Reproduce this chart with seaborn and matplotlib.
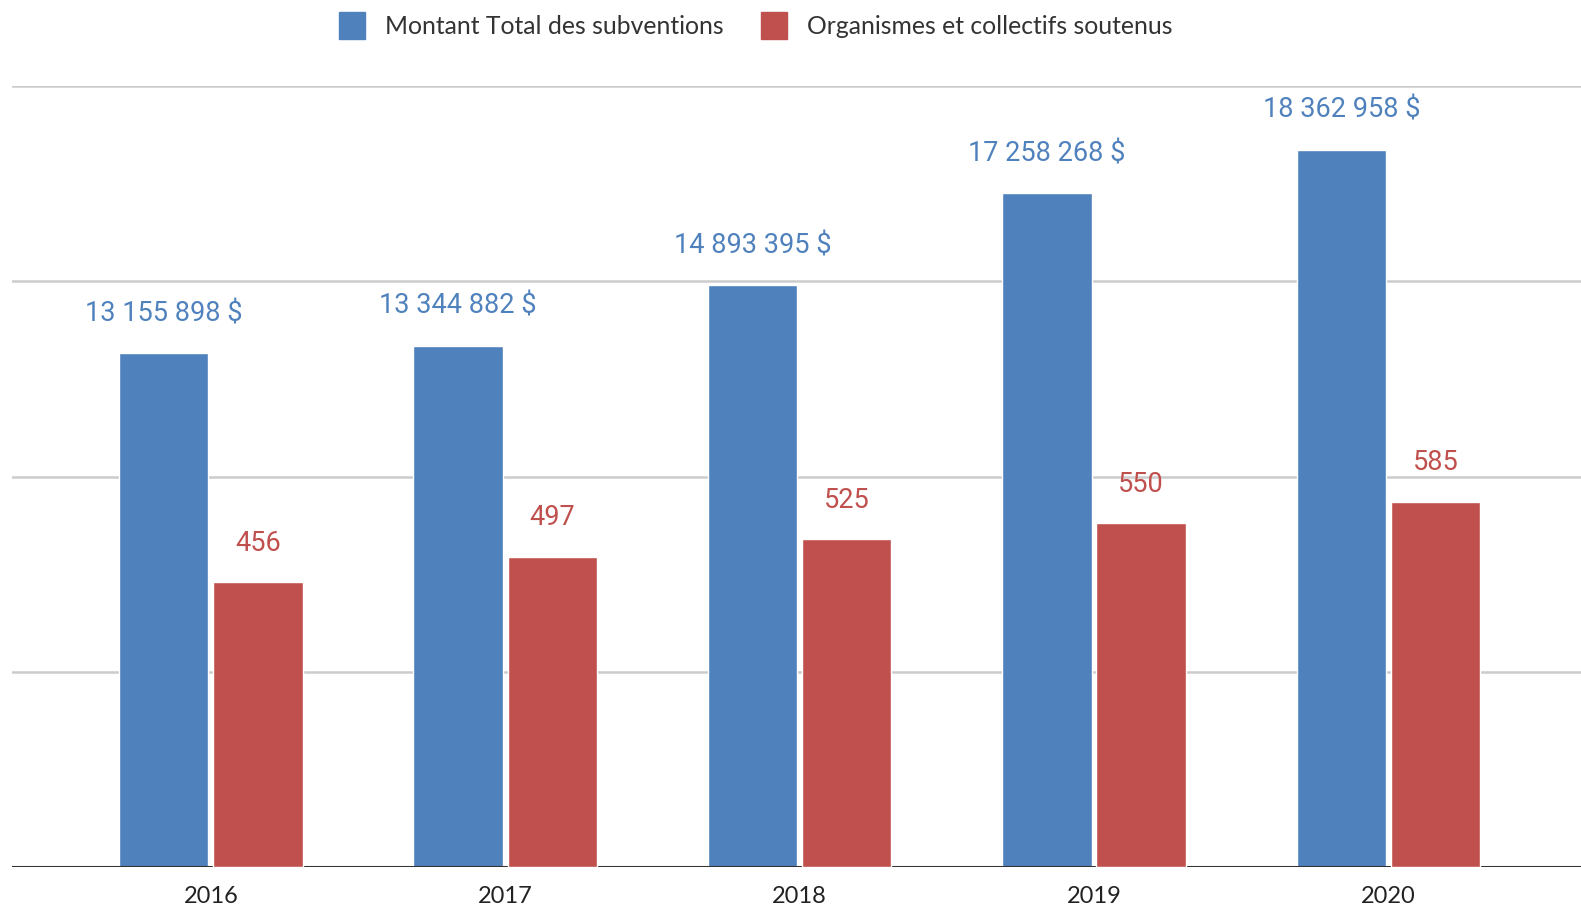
import matplotlib
matplotlib.use("Agg")
import matplotlib.pyplot as plt
from matplotlib.patches import Patch
import seaborn as sns
import pandas as pd
import numpy as np

years = ["2016", "2017", "2018", "2019", "2020"]
montant = [13155898, 13344882, 14893395, 17258268, 18362958]
organismes = [456, 497, 525, 550, 585]
series_names = ["Montant Total des subventions", "Organismes et collectifs soutenus"]

BLUE = "#4f81bd"
RED = "#c0504d"

sns.set_theme(style="white")
plt.rcParams["font.family"] = ["Lato", "DejaVu Sans"]

def fr(n):
    return f"{n:,}".replace(",", " ")

n = len(years)
df = pd.DataFrame({
    "year": years * 2,
    "series": [series_names[0]] * n + [series_names[1]] * n,
    "left": montant + [np.nan] * n,
    "right": [np.nan] * n + organismes,
})

fig = plt.figure(figsize=(15.81, 9.06), dpi=100)
ax1 = fig.add_axes([12 / 1568, 0.043, 1 - 12 / 1568, 0.905 - 0.043])
ax2 = ax1.twinx()

palette = {series_names[0]: BLUE, series_names[1]: RED}
sns.barplot(data=df, x="year", y="left", hue="series", hue_order=series_names,
            palette=palette, width=0.64, gap=0.05, dodge=True, ax=ax1,
            legend=False, saturation=1, errorbar=None, order=years)
sns.barplot(data=df, x="year", y="right", hue="series", hue_order=series_names,
            palette=palette, width=0.64, gap=0.05, dodge=True, ax=ax2,
            legend=False, saturation=1, errorbar=None, order=years)

ax1.set_ylim(0, 20_000_000)
ax2.set_ylim(0, 1250)
ax1.set_xlim(-0.675, 4.654)

ax1.set_yticks([5e6, 10e6, 15e6, 20e6])
ax1.yaxis.grid(True, color="#cccccc", linewidth=1.8)
ax1.set_axisbelow(True)
ax1.tick_params(axis="y", left=False, labelleft=False)
ax2.set_yticks([])
ax1.set_ylabel("")
ax2.set_ylabel("")
ax1.set_xlabel("")
ax2.set_xlabel("")
ax1.tick_params(axis="x", bottom=False, pad=7.5, labelsize=17, labelcolor="#222222")

for a in (ax1, ax2):
    for s in ("top", "right", "left", "bottom"):
        a.spines[s].set_visible(False)
ax1.axhline(0, color="#333333", linewidth=2.2, zorder=5)

# labels
for p in ax1.patches:
    h = p.get_height()
    if np.isfinite(h) and h > 0:
        ax1.annotate(fr(int(round(h))) + " $", (p.get_x() + p.get_width() / 2, h),
                     xytext=(0, 28.5), textcoords="offset points", ha="center",
                     va="center", color=BLUE, fontsize=19.5, family="Roboto")
for p in ax2.patches:
    h = p.get_height()
    if np.isfinite(h) and h > 0:
        ax2.annotate(fr(int(round(h))), (p.get_x() + p.get_width() / 2, h),
                     xytext=(0, 28), textcoords="offset points", ha="center",
                     va="center", color=RED, fontsize=19.5, family="Roboto")

handles = [Patch(facecolor=BLUE, edgecolor=BLUE), Patch(facecolor=RED, edgecolor=RED)]
leg = fig.legend(handles, series_names, loc="center", bbox_to_anchor=(0.478, 0.972),
                 ncol=2, frameon=False, fontsize=17.8, handlelength=1.05, handleheight=1.3,
                 handletextpad=0.8, columnspacing=1.5, labelcolor="#333333")

fig.savefig("out.png", dpi=100)
